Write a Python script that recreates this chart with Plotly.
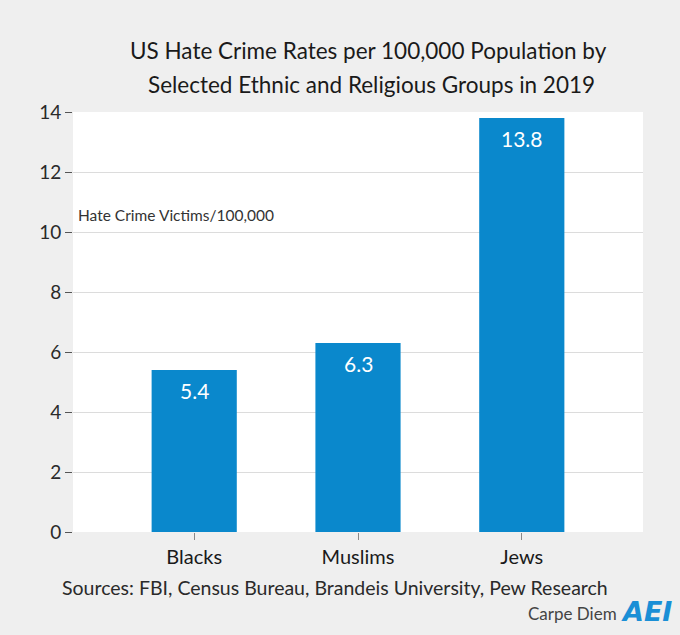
import plotly.graph_objects as go

groups = ['Blacks', 'Muslims', 'Jews']
rates = [5.4, 6.3, 13.8]
labels = ['5.4', '6.3', '13.8']
y_ticks = [0, 2, 4, 6, 8, 10, 12, 14]
title_lines = ['US Hate Crime Rates per 100,000 Population by',
               'Selected Ethnic and Religious Groups in 2019']

FONT = 'Lato'
BAR = '#0a88cc'
BG = '#efefef'

fig = go.Figure()
fig.add_trace(go.Bar(
    x=list(range(len(groups))), y=rates,
    marker=dict(color=BAR, line=dict(width=0)),
    width=0.52, hoverinfo='skip'
))

# etichette bianche dentro le barre
for i, (v, t) in enumerate(zip(rates, labels)):
    fig.add_annotation(x=i, y=v, text=t, showarrow=False, yanchor='top', yshift=-6,
                       font=dict(family=FONT, size=21, color='white'))

# titolo su due righe, con interlinea più ampia
for ty, tx, line in zip([1.1476, 1.0643], [0.5176, 0.5229], title_lines):
    fig.add_annotation(xref='paper', yref='paper', x=tx, y=ty, xanchor='center', yanchor='middle',
                       text=line, showarrow=False,
                       font=dict(family=FONT, size=22.5, color='#1a1a1a'))

fig.add_annotation(xref='paper', yref='paper', x=0.006, y=0.755, xanchor='left', yanchor='middle',
                   text='Hate Crime Victims/100,000', showarrow=False,
                   font=dict(family=FONT, size=15.5, color='#333333'))

fig.add_annotation(xref='paper', yref='paper', x=0.4594, y=-0.133, xanchor='center', yanchor='middle',
                   text='Sources: FBI, Census Bureau, Brandeis University, Pew Research', showarrow=False,
                   font=dict(family=FONT, size=19.5, color='#2a2a2a'))

fig.add_annotation(xref='paper', yref='paper', x=0.958, y=-0.193, xanchor='right', yanchor='middle',
                   text='Carpe Diem', showarrow=False,
                   font=dict(family=FONT, size=17, color='#444444'))
fig.add_annotation(xref='paper', yref='paper', x=1.055, y=-0.19, xanchor='right', yanchor='middle',
                   text='<b><i>AEI</i></b>', showarrow=False,
                   font=dict(family='DejaVu Sans', size=27, color='#1a8fd6'))

fig.update_layout(
    width=680, height=635,
    paper_bgcolor=BG, plot_bgcolor='white',
    margin=dict(l=73, r=37, t=112, b=103),
    showlegend=False,
    xaxis=dict(tickmode='array', tickvals=list(range(len(groups))), ticktext=groups,
               range=[-0.74, 2.74], showgrid=False, zeroline=False, showline=False,
               ticks='outside', ticklen=7, tickcolor='#888888',
               tickfont=dict(family=FONT, size=20, color='#1a1a1a')),
    yaxis=dict(range=[0, 14], tickvals=y_ticks, showgrid=True, gridcolor='#dcdcdc', gridwidth=1,
               zeroline=False, showline=False, ticks='outside', ticklen=7, tickcolor='#555555',
               tickfont=dict(family=FONT, size=19, color='#2a2a2a')),
)

fig.write_html('out.html', config={'displayModeBar': False},
               post_script="document.body.style.margin='0';document.body.style.background='#efefef';")
